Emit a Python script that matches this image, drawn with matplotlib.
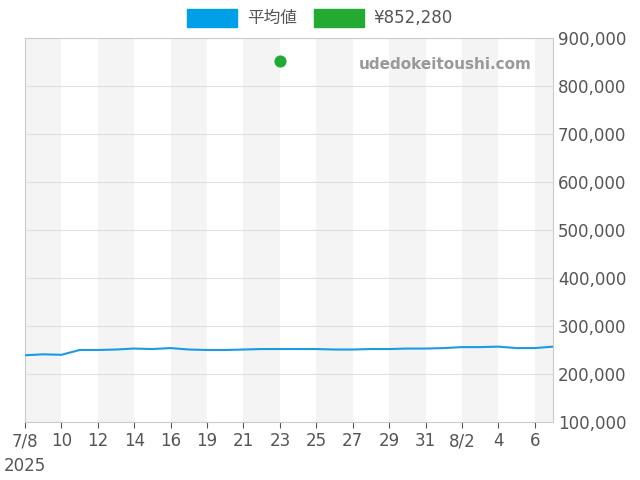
import matplotlib
matplotlib.use("Agg")
import matplotlib.pyplot as plt
from matplotlib.ticker import FuncFormatter

plt.rcParams['font.family'] = ['DejaVu Sans', 'Noto Sans CJK JP']

dates = ["7/8","9","10","11","12","13","14","15","16","18","19","20","21","22","23","24","25","26","27","28","29","30","31","8/1","8/2","3","4","5","6","7"]
avg = [239000,241000,240000,250000,250000,251000,253000,252000,254000,251000,250000,250000,251000,252000,252000,252000,252000,251000,251000,252000,252000,253000,253000,254000,256000,256000,257000,254000,254000,257000]
point_idx = 14
point_val = 852280

fig = plt.figure(figsize=(6.4,4.8), dpi=100)
ax = fig.add_axes([25/640, 1-422/480, 528/640, 384/480])
x = list(range(len(dates)))
for s in range(0, len(dates), 4):
    ax.axvspan(s, s+2, color='#f4f4f4', zorder=0, lw=0)
ax.plot(x, avg, color='#1a9be6', lw=1.5, zorder=3)
ax.scatter([point_idx], [point_val], color='#22aa33', s=60, zorder=4)
ax.set_xlim(0, 29)
ax.set_ylim(100000, 900000)
ax.yaxis.tick_right()
ax.set_yticks(range(100000, 900001, 100000))
ax.yaxis.set_major_formatter(FuncFormatter(lambda v,p: f"{int(v):,}"))
ax.grid(axis='y', color='#e0e0e0', lw=0.8)
ax.set_axisbelow(True)
ticks = list(range(0, 29, 2))
ax.set_xticks(ticks)
ax.set_xticklabels([dates[i] for i in ticks])
ax.tick_params(colors='#555555', labelsize=12, length=0)
ax.tick_params(axis='x', length=4)
for sp in ax.spines.values():
    sp.set_color('#cccccc')
fig.text(4/640, 1-466/480, "2025", fontsize=12, color='#555555', va='center')
ax.text(0.96, 0.93, "udedokeitoushi.com", transform=ax.transAxes, ha='right', va='center',
        fontsize=11, color='#999999', fontweight='bold')
from matplotlib.patches import Patch
h = [Patch(color='#009fe8', label='平均値'), Patch(color='#22aa33', label='¥852,280')]
fig.legend(handles=h, loc='center', bbox_to_anchor=(0.5, 1-18/480), ncol=2, frameon=False,
           prop={'family': ['DejaVu Sans', 'Noto Sans CJK JP'], 'size': 12},
           handlelength=3, handleheight=1.3, handletextpad=0.6, labelcolor='#555555', columnspacing=1)
fig.savefig("out.png")
